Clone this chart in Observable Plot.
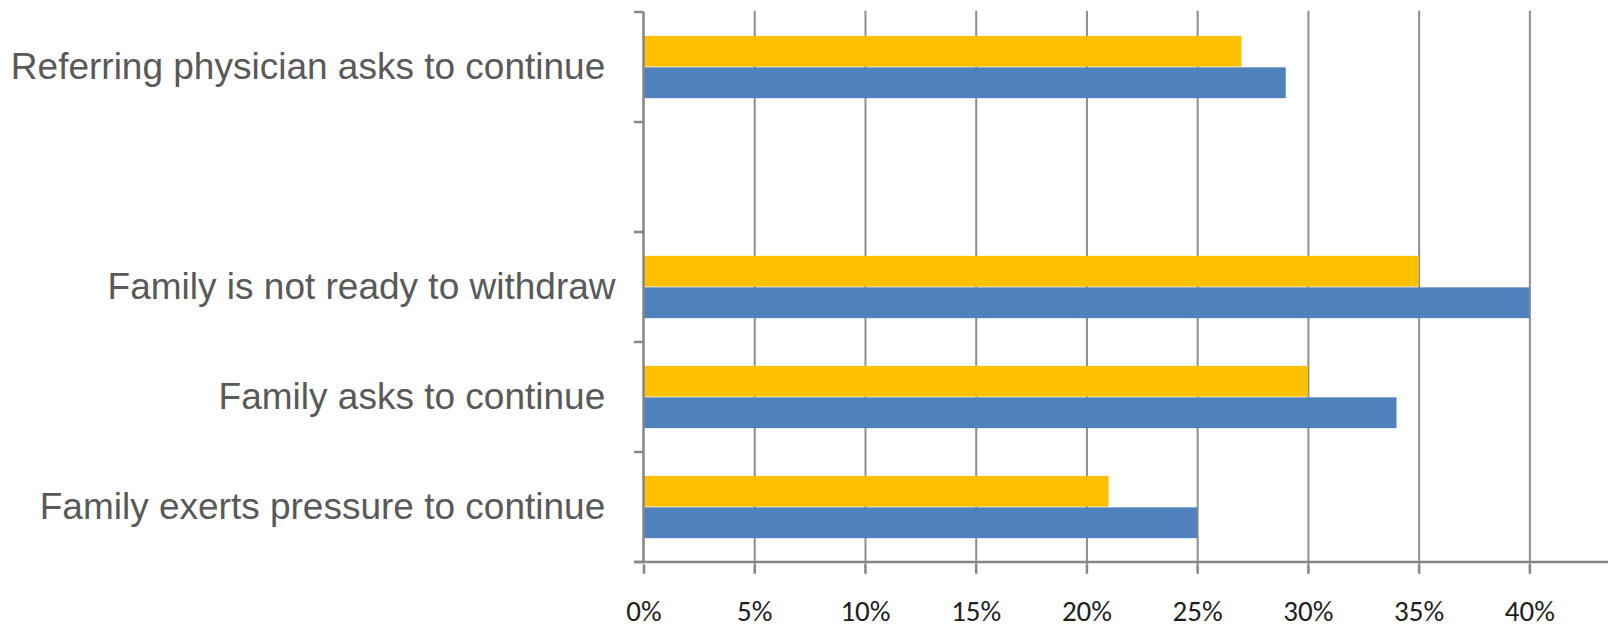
<!DOCTYPE html>
<html>
<head>
<meta charset="utf-8">
<script src="https://cdn.jsdelivr.net/npm/d3@7"></script>
<script src="https://cdn.jsdelivr.net/npm/@observablehq/plot@0.6"></script>
<style>
  html, body { margin: 0; padding: 0; background: #ffffff; }
  #chart svg { display: block; }
</style>
</head>
<body>
<div id="chart"></div>
<script>
// ---- data ----
const categories = [
  "Referring physician asks to continue\u00a0",
  "",
  "Family is not ready to withdraw",
  "Family asks to continue\u00a0",
  "Family exerts pressure to continue\u00a0"
];
const seriesNames = ["Yellow", "Blue"];
const yellowValues = [27, null, 35, 30, 21];   // percent
const blueValues   = [29, null, 40, 34, 25];   // percent
const tickValues   = [0, 5, 10, 15, 20, 25, 30, 35, 40]; // percent
const seriesColors = ["#FFC000", "#4F81BD"];

// ---- layout ----
const W = 1608, H = 629;
const marginTop = 10.7, marginBottom = 64.7, marginLeft = 643.5, marginRight = 0;
const nBands = categories.length;
const bandH = (H - marginTop - marginBottom) / nBands;
const barH = 31.5;
const outerGap = (bandH - 2 * barH) / 2;

const rows = [];
categories.forEach((c, i) => {
  if (yellowValues[i] != null) rows.push({category: c, series: "Yellow", value: yellowValues[i] / 100});
  if (blueValues[i] != null) rows.push({category: c, series: "Blue", value: blueValues[i] / 100});
});

const axisGray = "#868686";
const gridGray = "#8e8e8e";
const labelFont = "'Liberation Sans', Arial, Helvetica, sans-serif";
const tickFont = "Carlito, Calibri, 'Liberation Sans Narrow', 'Arial Narrow', 'DejaVu Sans Condensed', sans-serif";

// separator ticks on the category axis + the axis lines, computed from the scales
function axisLines(index, scales, values, dimensions) {
  const y = scales.y;
  const bw = typeof y.bandwidth === "function" ? y.bandwidth() : y.bandwidth;
  const x0 = scales.x(0);
  const g = d3.create("svg:g").attr("stroke", axisGray).attr("stroke-width", 2.5).attr("fill", "none");
  const dom = y.domain();
  const bounds = dom.map(d => y(d)).concat([y(dom[dom.length - 1]) + bw]);
  const top = bounds[0], bottom = bounds[bounds.length - 1];
  g.append("line").attr("x1", x0).attr("x2", x0).attr("y1", top).attr("y2", bottom);
  for (const b of bounds) {
    g.append("line").attr("x1", x0 - 9.5).attr("x2", x0).attr("y1", b).attr("y2", b);
  }
  g.append("line").attr("x1", x0 - 9.5).attr("x2", dimensions.width).attr("y1", bottom).attr("y2", bottom);
  return g.node();
}

const chart = Plot.plot({
  width: W,
  height: H,
  marginTop, marginBottom, marginLeft, marginRight,
  style: {background: "#ffffff"},
  x: {domain: [0, 0.4355], axis: null},
  y: {domain: categories, padding: 0, axis: null},
  marks: [
    Plot.ruleX(tickValues.filter(v => v > 0).map(v => v / 100), {stroke: gridGray, strokeWidth: 2}),
    Plot.barX(rows.filter(d => d.series === seriesNames[0]), {
      x: "value", y: "category", fill: seriesColors[0],
      insetTop: outerGap, insetBottom: outerGap + barH
    }),
    Plot.barX(rows.filter(d => d.series === seriesNames[1]), {
      x: "value", y: "category", fill: seriesColors[1],
      insetTop: outerGap + barH, insetBottom: outerGap
    }),
    axisLines,
    Plot.axisX({
      ticks: tickValues.map(v => v / 100),
      tickFormat: d3.format(".0%"),
      tickSize: 9.5,
      tickPadding: 26,
      stroke: axisGray,
      strokeWidth: 2.5,
      fill: "#1e1e1e",
      fontSize: 29,
      fontFamily: tickFont,
      label: null
    }),
    Plot.axisY({
      tickSize: 0,
      tickPadding: 28.5,
      fill: "#595959",
      fontSize: 37,
      fontFamily: labelFont,
      label: null
    })
  ]
});

document.getElementById("chart").appendChild(chart);
</script>
</body>
</html>
